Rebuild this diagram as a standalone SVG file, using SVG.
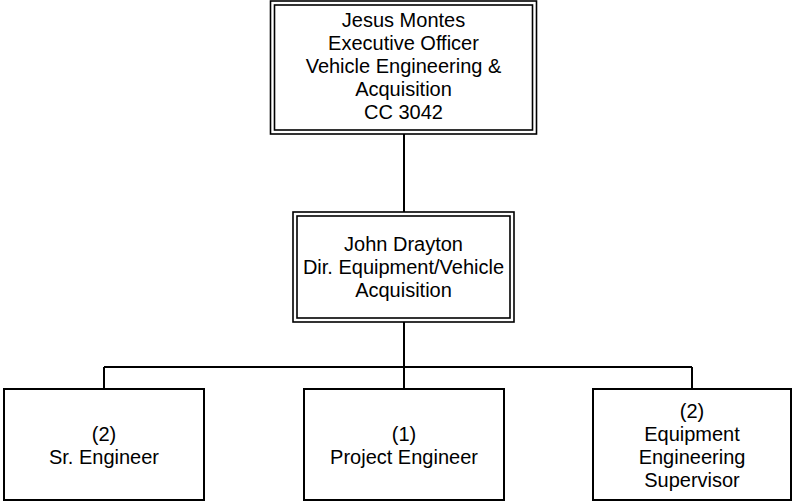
<svg xmlns="http://www.w3.org/2000/svg" width="792" height="502" viewBox="0 0 792 502">
<style>
.bg{fill:#fff}
.b{fill:#fff;stroke:#000;stroke-width:2}
.d{fill:none;stroke:#000;stroke-width:1.6}
.c{fill:none;stroke:#000;stroke-width:2}
text{font-family:"Liberation Sans",Arial,sans-serif;font-size:20px;fill:#000;text-anchor:middle}
</style>
<rect class="bg" x="0" y="0" width="792" height="502"/>
<g id="connectors">
<path class="c" d="M404 134V212M404 322V367M104 367H692M104 367V389M404 367V389M692 367V389"/>
</g>
<g id="n-montes">
<rect class="b" x="270.5" y="1" width="266" height="133" style="stroke-width:1.6"/>
<rect class="d" x="274.5" y="5" width="258" height="125"/>
<text x="403.5" y="27">Jesus Montes</text>
<text x="403.5" y="50">Executive Officer</text>
<text x="403.5" y="73">Vehicle Engineering &amp;</text>
<text x="403.5" y="96">Acquisition</text>
<text x="403.5" y="119">CC 3042</text>
</g>
<g id="n-drayton">
<rect class="b" x="293" y="212" width="221" height="110" style="stroke-width:1.6"/>
<rect class="d" x="297" y="216" width="213" height="102"/>
<text x="403.5" y="251">John Drayton</text>
<text x="403.5" y="274">Dir. Equipment/Vehicle</text>
<text x="403.5" y="297">Acquisition</text>
</g>
<g id="n-sr">
<rect class="b" x="4" y="389" width="200" height="111"/>
<text x="104" y="441">(2)</text>
<text x="104" y="464">Sr. Engineer</text>
</g>
<g id="n-project">
<rect class="b" x="304" y="389" width="200" height="111"/>
<text x="404" y="441">(1)</text>
<text x="404" y="464">Project Engineer</text>
</g>
<g id="n-supervisor">
<rect class="b" x="593" y="389" width="198" height="111"/>
<text x="692" y="418">(2)</text>
<text x="692" y="441">Equipment</text>
<text x="692" y="464">Engineering</text>
<text x="692" y="487">Supervisor</text>
</g>
</svg>
